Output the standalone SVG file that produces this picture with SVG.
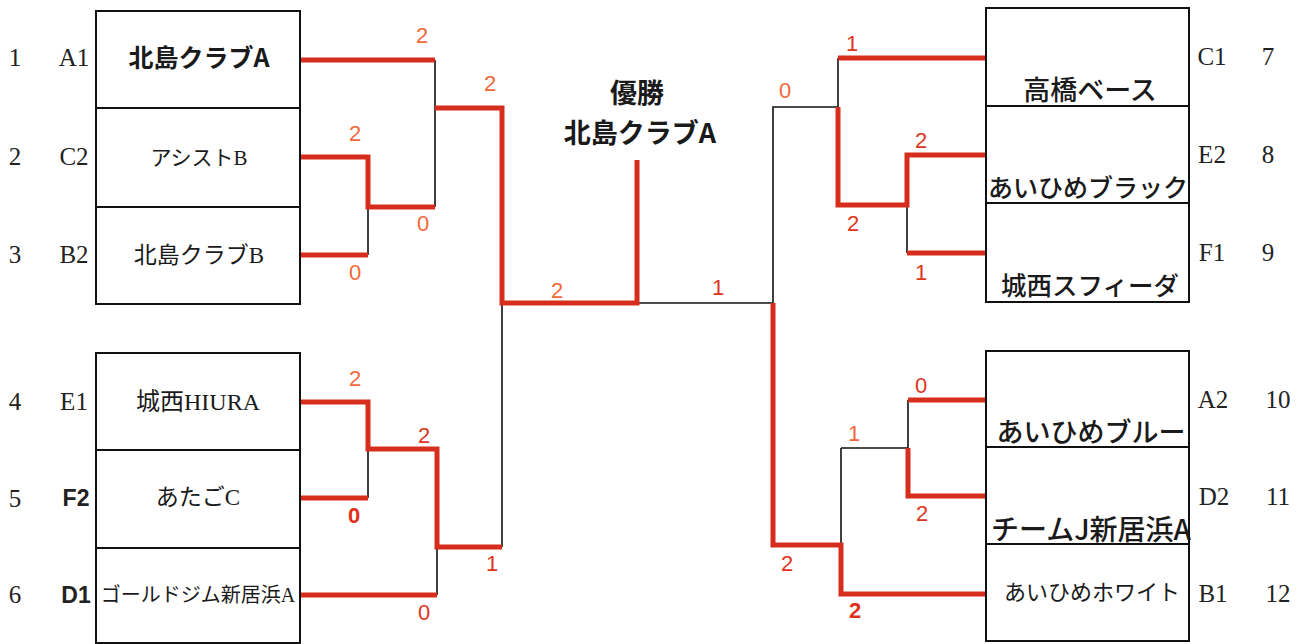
<svg xmlns="http://www.w3.org/2000/svg" width="1303" height="644" viewBox="0 0 1303 644">
<style>
.cell{fill:#fff;stroke:#111;stroke-width:2}
.red{fill:none;stroke:#d62d1c;stroke-width:5;stroke-linejoin:miter;stroke-linecap:butt}
.blk{fill:none;stroke:#111;stroke-width:1.6}
.lbl{font-family:"Liberation Serif","Times New Roman",serif;font-size:25px;fill:#222;text-anchor:middle}
.lblb{font-family:"Liberation Sans",Arial,sans-serif;font-size:23px;font-weight:bold;fill:#222;text-anchor:middle}
.nm{font-family:"Noto Sans CJK JP",sans-serif;fill:#1a1a1a;text-anchor:middle}
.nmm{font-weight:500}
.nms{font-family:"Liberation Serif","Noto Sans CJK JP",serif;fill:#1a1a1a;text-anchor:middle}
.sc{font-family:"Liberation Sans",Arial,sans-serif;font-size:22px;text-anchor:middle}
.o{fill:#f3683a}
.r{fill:#e0361c}
.rb{fill:#e0301a;font-weight:bold}
.ttl{font-family:"Noto Sans CJK JP",sans-serif;font-size:27px;font-weight:bold;fill:#1a1a1a;text-anchor:middle}
</style>

<g id="connectors">
  <path class="blk" d="M435,60 V207 M368,207 V255 M502,303 V547 M368,449 V498 M437,547 V595 M637,303 H773 M773,303 V107 H838 M838,58 V107 M907,205 V253 M908,400 V448 M841,448 H908 M841,448 V545"/>
  <path class="red" d="M300,60 H435"/>
  <path class="red" d="M300,157 H368 V207 H435"/>
  <path class="red" d="M300,255 H368"/>
  <path class="red" d="M435,108 H502 V303 H637 V160"/>
  <path class="red" d="M300,402 H368 V449 H437 V547 H502"/>
  <path class="red" d="M300,498 H368"/>
  <path class="red" d="M300,595 H437"/>
  <path class="red" d="M773,303 V545 H841 V594 H986"/>
  <path class="red" d="M986,58 H838"/>
  <path class="red" d="M838,107 V205 H907 V155 H986"/>
  <path class="red" d="M907,253 H986"/>
  <path class="red" d="M908,400 H986"/>
  <path class="red" d="M908,448 V496 H986"/>
</g>

<g id="scores">
  <text class="sc o" x="422" y="43">2</text>
  <text class="sc o" x="490" y="91">2</text>
  <text class="sc o" x="355" y="141">2</text>
  <text class="sc o" x="423" y="231">0</text>
  <text class="sc o" x="355" y="280">0</text>
  <text class="sc o" x="355" y="386">2</text>
  <text class="sc rb" x="354" y="523">0</text>
  <text class="sc r" x="424" y="443">2</text>
  <text class="sc r" x="424" y="620">0</text>
  <text class="sc r" x="492" y="571">1</text>
  <text class="sc o" x="557" y="298">2</text>
  <text class="sc r" x="718" y="295">1</text>
  <text class="sc o" x="785" y="98">0</text>
  <text class="sc r" x="852" y="51">1</text>
  <text class="sc r" x="921" y="148">2</text>
  <text class="sc r" x="853" y="231">2</text>
  <text class="sc r" x="921" y="280">1</text>
  <text class="sc r" x="921" y="393">0</text>
  <text class="sc o" x="854" y="441">1</text>
  <text class="sc r" x="922" y="521">2</text>
  <text class="sc r" x="787" y="571">2</text>
  <text class="sc rb" x="855" y="618">2</text>
</g>

<g id="champion">
  <text class="ttl" x="637" y="103">優勝</text>
  <text class="ttl" x="640" y="143">北島クラブA</text>
</g>

<g id="team-1">
  <rect class="cell" x="96" y="11" width="204" height="97"/>
  <text class="lbl" x="15" y="66">1</text>
  <text class="lbl" x="74" y="66">A1</text>
  <text class="nm" x="199" y="67" font-size="25" font-weight="bold">北島クラブA</text>
</g>
<g id="team-2">
  <rect class="cell" x="96" y="108" width="204" height="99"/>
  <text class="lbl" x="15" y="165">2</text>
  <text class="lbl" x="74" y="165">C2</text>
  <text class="nms" x="199" y="165" font-size="21">アシストB</text>
</g>
<g id="team-3">
  <rect class="cell" x="96" y="207" width="204" height="97"/>
  <text class="lbl" x="15" y="263">3</text>
  <text class="lbl" x="74" y="263">B2</text>
  <text class="nms" x="199" y="263" font-size="23">北島クラブB</text>
</g>
<g id="team-4">
  <rect class="cell" x="96" y="353" width="204" height="97"/>
  <text class="lbl" x="15" y="410">4</text>
  <text class="lbl" x="74" y="410">E1</text>
  <text class="nms" x="198" y="410" font-size="24">城西HIURA</text>
</g>
<g id="team-5">
  <rect class="cell" x="96" y="450" width="204" height="98"/>
  <text class="lbl" x="15" y="507">5</text>
  <text class="lblb" x="76" y="506">F2</text>
  <text class="nms" x="198" y="505" font-size="23">あたごC</text>
</g>
<g id="team-6">
  <rect class="cell" x="96" y="548" width="204" height="95"/>
  <text class="lbl" x="15" y="603">6</text>
  <text class="lblb" x="76" y="603">D1</text>
  <text class="nms" x="198" y="602" font-size="20">ゴールドジム新居浜A</text>
</g>

<g id="team-7">
  <rect class="cell" x="986" y="8" width="203" height="98"/>
  <text class="lbl" x="1212" y="65">C1</text>
  <text class="lbl" x="1268" y="65">7</text>
  <text class="nm nmm" x="1090" y="100" font-size="27">高橋ベース</text>
</g>
<g id="team-8">
  <rect class="cell" x="986" y="106" width="203" height="97"/>
  <text class="lbl" x="1212" y="163">E2</text>
  <text class="lbl" x="1268" y="163">8</text>
  <text class="nm nmm" x="1088" y="197" font-size="25">あいひめブラック</text>
</g>
<g id="team-9">
  <rect class="cell" x="986" y="203" width="203" height="99"/>
  <text class="lbl" x="1212" y="261">F1</text>
  <text class="lbl" x="1268" y="261">9</text>
  <text class="nm nmm" x="1090" y="295" font-size="25.5">城西スフィーダ</text>
</g>
<g id="team-10">
  <rect class="cell" x="986" y="351" width="203" height="96"/>
  <text class="lbl" x="1213" y="408">A2</text>
  <text class="lbl" x="1278" y="408">10</text>
  <text class="nm nmm" x="1091" y="442" font-size="27">あいひめブルー</text>
</g>
<g id="team-11">
  <rect class="cell" x="986" y="447" width="203" height="97"/>
  <text class="lbl" x="1214" y="505">D2</text>
  <text class="lbl" x="1278" y="505">11</text>
  <text class="nm nmm" x="1091" y="540" font-size="28">チームJ新居浜A</text>
</g>
<g id="team-12">
  <rect class="cell" x="986" y="544" width="203" height="97"/>
  <text class="lbl" x="1213" y="602">B1</text>
  <text class="lbl" x="1278" y="602">12</text>
  <text class="nms" x="1092" y="600" font-size="22">あいひめホワイト</text>
</g>
</svg>
